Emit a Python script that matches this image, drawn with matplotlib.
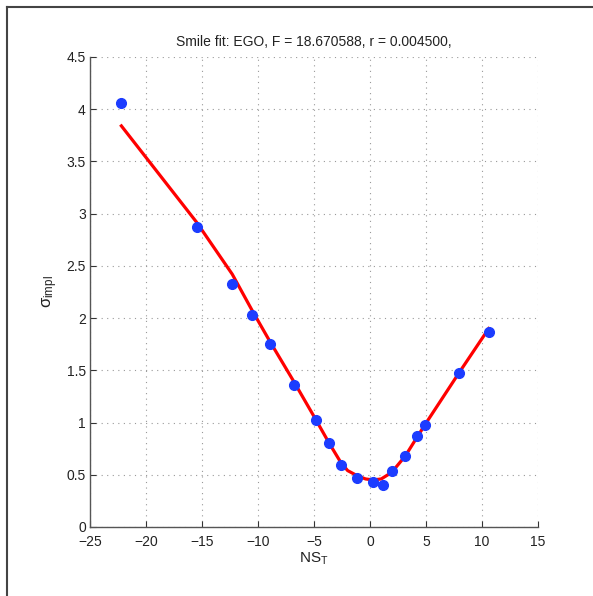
import matplotlib
matplotlib.use("Agg")
import matplotlib.pyplot as plt
from matplotlib.lines import Line2D

plt.rcParams['font.family'] = ['Liberation Sans Narrow', 'Liberation Sans', 'DejaVu Sans']
plt.rcParams['mathtext.fontset'] = 'custom'
plt.rcParams['mathtext.rm'] = 'Liberation Sans'
plt.rcParams['mathtext.it'] = 'Liberation Sans'

# market implied vols vs. normalized strike
ns = [-22.26, -15.42, -12.32, -10.56, -8.96, -6.79, -4.85, -3.69, -2.62,
      -1.13, 0.29, 1.16, 1.99, 3.15, 4.20, 4.91, 7.97, 10.60]
vol = [4.06, 2.87, 2.33, 2.03, 1.75, 1.36, 1.02, 0.80, 0.59,
       0.47, 0.43, 0.40, 0.54, 0.68, 0.87, 0.98, 1.47, 1.87]

# fitted smile
ns_fit = [-22.2, -15.5, -12.3, -10.56, -8.96, -6.79, -4.85, -3.69, -2.62,
          -2.0, -1.13, -0.4, 0.29, 1.0, 1.6, 1.99, 3.15, 4.20, 4.91, 7.97, 10.6]
vol_fit = [3.84, 2.92, 2.42, 2.08, 1.78, 1.39, 1.03, 0.81, 0.62,
           0.54, 0.49, 0.46, 0.45, 0.46, 0.50, 0.53, 0.68, 0.86, 0.98, 1.48, 1.90]

fig = plt.figure(figsize=(5.93, 5.96), dpi=100)
ax = fig.add_axes([0.1518, 0.1158, 0.7555, 0.7886])

ax.plot(ns_fit, vol_fit, color='red', lw=2.3, zorder=2)
ax.plot(ns, vol, 'o', color='#1c3cff', ms=7, mec='#1c3cff', zorder=3)

ax.set_xlim(-25, 15)
ax.set_ylim(0, 4.5)
ax.set_xticks(range(-25, 16, 5))
ax.set_yticks([0, 0.5, 1, 1.5, 2, 2.5, 3, 3.5, 4, 4.5])
ax.set_yticklabels(['0', '0.5', '1', '1.5', '2', '2.5', '3', '3.5', '4', '4.5'])
ax.set_xticklabels(['\u221225', '\u221220', '\u221215', '\u221210', '\u22125',
                    '0', '5', '10', '15'])
ax.grid(True, ls=(0, (1, 4)), color='#999999', lw=0.8)
ax.tick_params(direction='in', length=4, width=0.8, labelsize=10,
               colors='#333333', labelcolor='#222222')
ax.tick_params(axis='x', pad=6)
ax.tick_params(axis='y', pad=3)
for s in ['top', 'right']:
    ax.spines[s].set_visible(False)
for s in ['left', 'bottom']:
    ax.spines[s].set_color('#555555')
    ax.spines[s].set_linewidth(1.0)

ax.set_title('Smile fit: EGO, F = 18.670588, r = 0.004500,', fontsize=10,
             color='#222222', pad=8)
ax.set_xlabel(r'NS$_\mathrm{T}$', fontsize=11, color='#222222', labelpad=1)
ax.set_ylabel(r'$\sigma_\mathrm{impl}$', fontsize=12, color='#222222', labelpad=5)

# frame lines on top and left
fig.add_artist(Line2D([7 / 593, 7 / 593], [0, 1 - 7 / 596],
                      transform=fig.transFigure, color='#444444', lw=1.5))
fig.add_artist(Line2D([7 / 593, 1], [1 - 7 / 596, 1 - 7 / 596],
                      transform=fig.transFigure, color='#444444', lw=1.5))

fig.savefig('out.png', dpi=100)
